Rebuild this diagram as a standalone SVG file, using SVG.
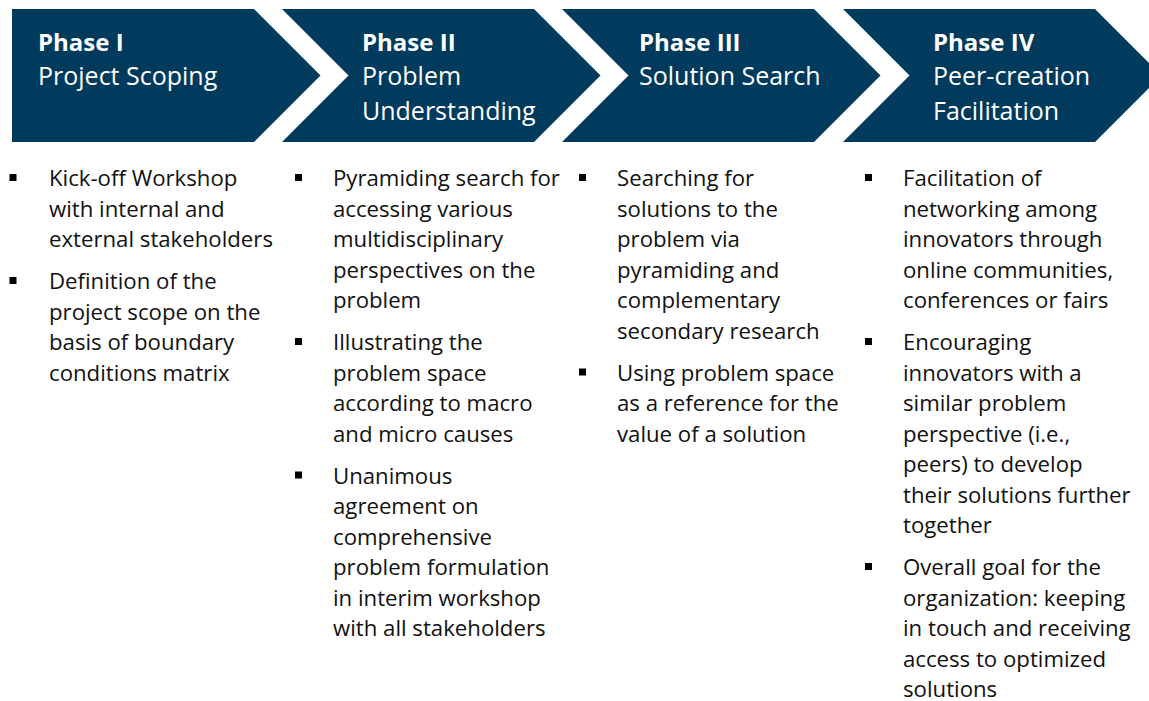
<svg xmlns="http://www.w3.org/2000/svg" width="1149" height="701" viewBox="0 0 1149 701">
<style>
.chev{fill:#003a5c}
.h1{font-family:"Open Sans","Liberation Sans",sans-serif;font-size:24px;font-weight:bold;fill:#ffffff}
.h2{font-family:"Open Sans","Liberation Sans",sans-serif;font-size:25px;fill:#ffffff}
.b{font-family:"Open Sans","Liberation Sans",sans-serif;font-size:22.2px;fill:#111111}
.sq{fill:#000000}
</style>
<rect width="1149" height="701" fill="#ffffff"/>
<g id="phase1">
<path class="chev" d="M12,9 H254 L320.5,75.5 L254,142 H12 Z"/>
<text class="h1" x="38" y="51">Phase I</text>
<text class="h2" x="38" y="85">Project Scoping</text>
</g>
<g id="phase2">
<path class="chev" d="M282,9 H534 L600.5,75.5 L534,142 H282 L348.5,75.5 Z"/>
<text class="h1" x="362" y="51">Phase II</text>
<text class="h2" x="362" y="85">Problem</text>
<text class="h2" x="362" y="120">Understanding</text>
</g>
<g id="phase3">
<path class="chev" d="M562,9 H814 L880.5,75.5 L814,142 H562 L628.5,75.5 Z"/>
<text class="h1" x="639" y="51">Phase III</text>
<text class="h2" x="639" y="85">Solution Search</text>
</g>
<g id="phase4">
<path class="chev" d="M843,9 H1095 L1161.5,75.5 L1095,142 H843 L909.5,75.5 Z"/>
<text class="h1" x="933" y="51">Phase IV</text>
<text class="h2" x="933" y="85">Peer-creation</text>
<text class="h2" x="933" y="120">Facilitation</text>
</g>
<g id="list1">
<rect class="sq" x="9.5" y="174" width="7" height="7"/>
<text class="b" x="49" y="186">Kick-off Workshop</text>
<text class="b" x="49" y="216.5">with internal and</text>
<text class="b" x="49" y="247">external stakeholders</text>
<rect class="sq" x="9.5" y="277" width="7" height="7"/>
<text class="b" x="49" y="289">Definition of the</text>
<text class="b" x="49" y="319.5">project scope on the</text>
<text class="b" x="49" y="350">basis of boundary</text>
<text class="b" x="49" y="380.5">conditions matrix</text>
</g>
<g id="list2">
<rect class="sq" x="295" y="174" width="7" height="7"/>
<text class="b" x="333" y="186">Pyramiding search for</text>
<text class="b" x="333" y="216.5">accessing various</text>
<text class="b" x="333" y="247">multidisciplinary</text>
<text class="b" x="333" y="277.5">perspectives on the</text>
<text class="b" x="333" y="308">problem</text>
<rect class="sq" x="295" y="338" width="7" height="7"/>
<text class="b" x="333" y="350">Illustrating the</text>
<text class="b" x="333" y="380.5">problem space</text>
<text class="b" x="333" y="411">according to macro</text>
<text class="b" x="333" y="441.5">and micro causes</text>
<rect class="sq" x="295" y="471.5" width="7" height="7"/>
<text class="b" x="333" y="483.5">Unanimous</text>
<text class="b" x="333" y="514">agreement on</text>
<text class="b" x="333" y="544.5">comprehensive</text>
<text class="b" x="333" y="575">problem formulation</text>
<text class="b" x="333" y="605.5">in interim workshop</text>
<text class="b" x="333" y="636">with all stakeholders</text>
</g>
<g id="list3">
<rect class="sq" x="579" y="174" width="7" height="7"/>
<text class="b" x="617" y="186">Searching for</text>
<text class="b" x="617" y="216.5">solutions to the</text>
<text class="b" x="617" y="247">problem via</text>
<text class="b" x="617" y="277.5">pyramiding and</text>
<text class="b" x="617" y="308">complementary</text>
<text class="b" x="617" y="338.5">secondary research</text>
<rect class="sq" x="579" y="368.5" width="7" height="7"/>
<text class="b" x="617" y="380.5">Using problem space</text>
<text class="b" x="617" y="411">as a reference for the</text>
<text class="b" x="617" y="441.5">value of a solution</text>
</g>
<g id="list4">
<rect class="sq" x="865" y="174" width="7" height="7"/>
<text class="b" x="903" y="186">Facilitation of</text>
<text class="b" x="903" y="216.5">networking among</text>
<text class="b" x="903" y="247">innovators through</text>
<text class="b" x="903" y="277.5">online communities,</text>
<text class="b" x="903" y="308">conferences or fairs</text>
<rect class="sq" x="865" y="338" width="7" height="7"/>
<text class="b" x="903" y="350">Encouraging</text>
<text class="b" x="903" y="380.5">innovators with a</text>
<text class="b" x="903" y="411">similar problem</text>
<text class="b" x="903" y="441.5">perspective (i.e.,</text>
<text class="b" x="903" y="472">peers) to develop</text>
<text class="b" x="903" y="502.5">their solutions further</text>
<text class="b" x="903" y="533">together</text>
<rect class="sq" x="865" y="563" width="7" height="7"/>
<text class="b" x="903" y="575">Overall goal for the</text>
<text class="b" x="903" y="605.5">organization: keeping</text>
<text class="b" x="903" y="636">in touch and receiving</text>
<text class="b" x="903" y="666.5">access to optimized</text>
<text class="b" x="903" y="697">solutions</text>
</g>
</svg>
